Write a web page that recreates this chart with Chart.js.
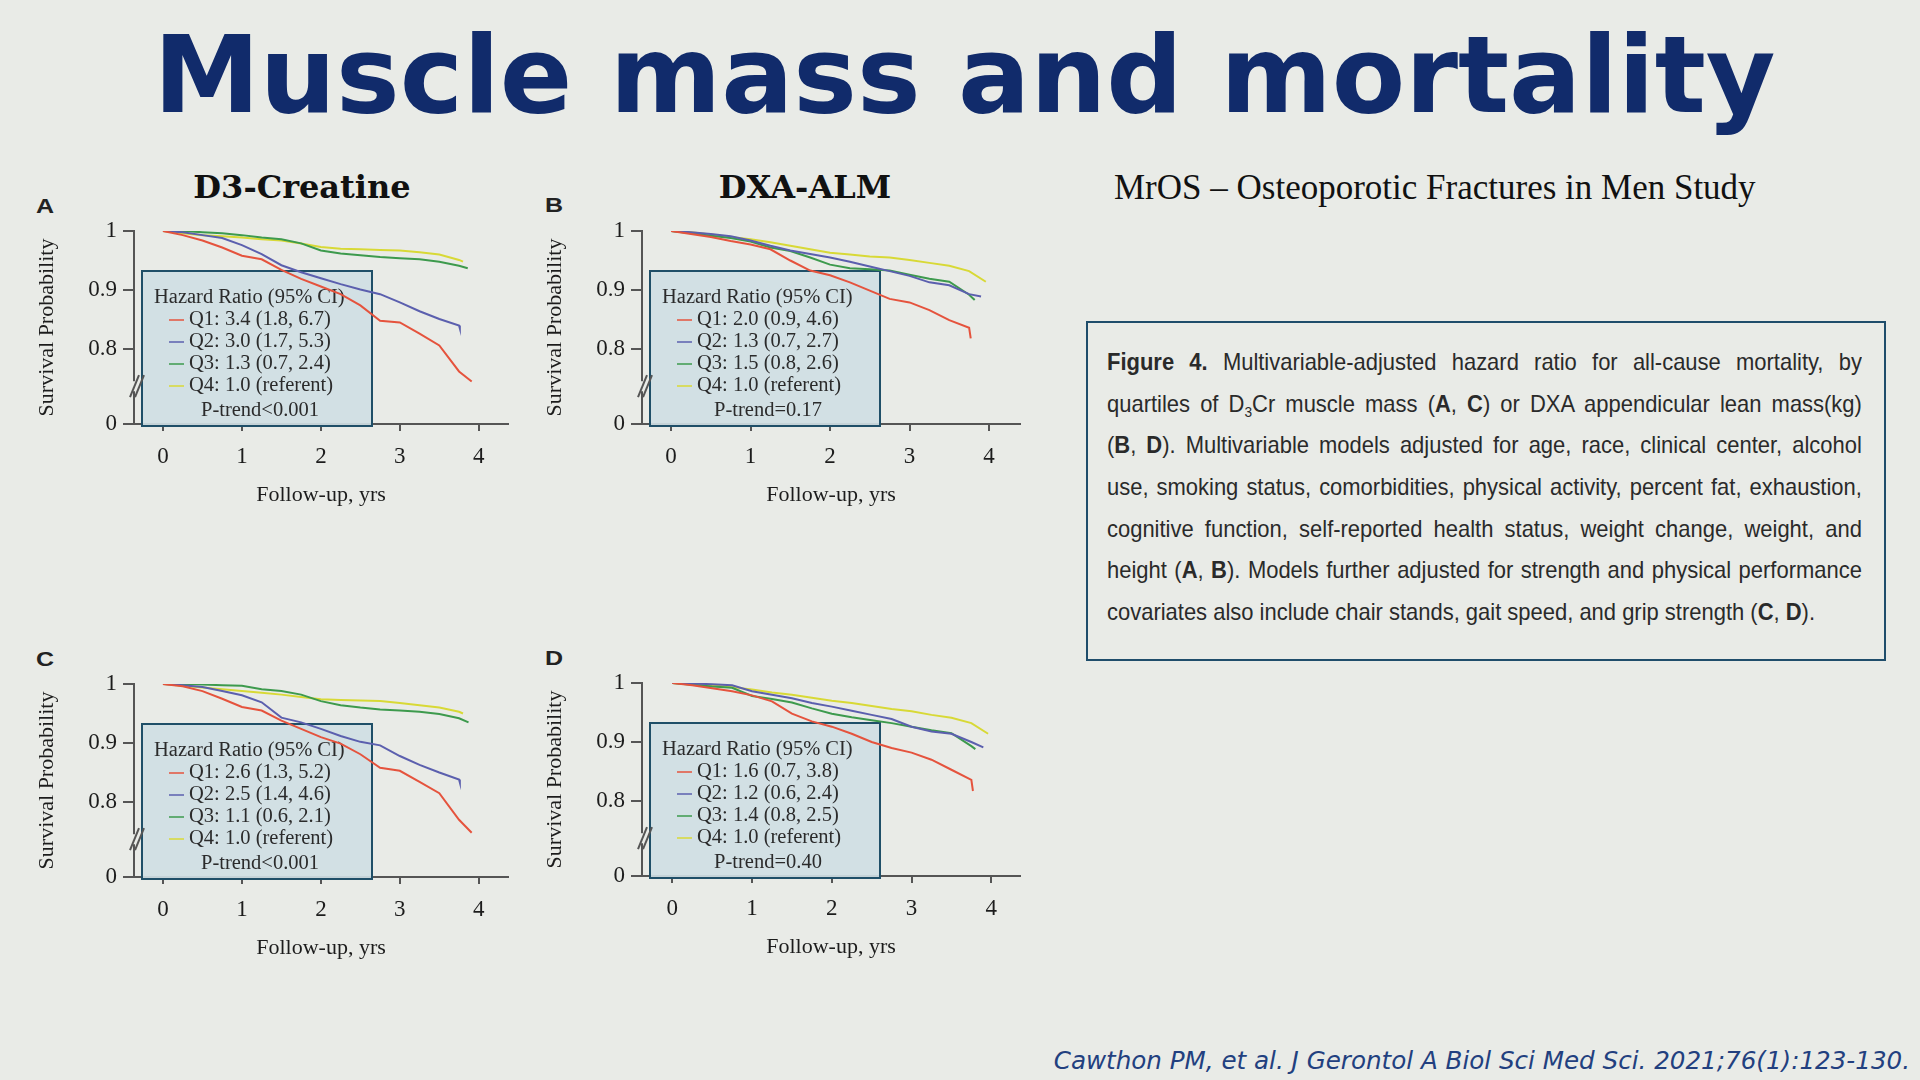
<!DOCTYPE html>
<html>
<head>
<meta charset="utf-8">
<title>Muscle mass and mortality</title>
<script src="https://cdn.jsdelivr.net/npm/chart.js@4.4.1/dist/chart.umd.min.js"></script>
<style>
  html, body { margin: 0; padding: 0; }
  body {
    width: 1920px; height: 1080px; position: relative; overflow: hidden;
    background: #e9ebe7;
  }
  .title {
    position: absolute; left: 0; top: 13px; width: 1929px; margin: 0;
    text-align: center; line-height: 1;
    font: bold 107px "DejaVu Sans", Verdana, sans-serif; color: #112b6b;
  }
  .panel { position: absolute; width: 540px; height: 320px; }
  .letter {
    position: absolute; line-height: 1;
    font: bold 20px "Liberation Sans", Arial, sans-serif; color: #222;
    transform: scaleX(1.25); transform-origin: 0 0;
  }
  .ptitle {
    position: absolute; width: 400px; text-align: center; line-height: 1;
    font: bold 32px "DejaVu Serif", Georgia, serif; color: #111;
  }
  .study {
    position: absolute; left: 1114px; top: 168px; line-height: 1;
    font: 35px "Liberation Serif", "Times New Roman", serif; color: #111;
  }
  .figbox {
    position: absolute; left: 1086px; top: 321px; width: 796px; height: 336px;
    border: 2px solid #1f4d6b;
  }
  .figtext {
    position: absolute; left: 19px; top: 18px; width: 825px;
    transform: scaleX(0.915); transform-origin: 0 0;
    font: 24px "Liberation Sans", Arial, sans-serif; color: #2a2a2a;
  }
  .figtext div {
    height: 41.7px; line-height: 41.7px; white-space: nowrap;
    text-align: justify; text-align-last: justify;
  }
  .figtext div.last { text-align: left; text-align-last: left; }
  .figtext sub { font-size: 15px; vertical-align: -5px; line-height: 0; }
  .cite {
    position: absolute; right: 10px; top: 1046px; line-height: 1;
    font: italic 24.6px "DejaVu Sans", Verdana, sans-serif; color: #22407f;
  }
</style>
</head>
<body>
<h1 class="title">Muscle mass and mortality</h1>

<div class="ptitle" style="left:102px; top:168px;">D3-Creatine</div>
<div class="ptitle" style="left:605px; top:168px;">DXA-ALM</div>
<div class="study">MrOS – Osteoporotic Fractures in Men Study</div>

<div class="letter" style="left:36px; top:195px;">A</div>
<div class="letter" style="left:545px; top:194px;">B</div>
<div class="letter" style="left:36px; top:648px;">C</div>
<div class="letter" style="left:545px; top:647px;">D</div>

<div class="panel" style="left:0px; top:200px;"><canvas id="chartA"></canvas></div>
<div class="panel" style="left:508px; top:200px;"><canvas id="chartB"></canvas></div>
<div class="panel" style="left:0px; top:653px;"><canvas id="chartC"></canvas></div>
<div class="panel" style="left:508px; top:652px;"><canvas id="chartD"></canvas></div>

<div class="figbox">
  <div class="figtext">
    <div><b>Figure 4.</b> Multivariable-adjusted hazard ratio for all-cause mortality, by</div>
    <div>quartiles of D<sub>3</sub>Cr muscle mass (<b>A</b>, <b>C</b>) or DXA appendicular lean mass(kg)</div>
    <div>(<b>B</b>, <b>D</b>). Multivariable models adjusted for age, race, clinical center, alcohol</div>
    <div>use, smoking status, comorbidities, physical activity, percent fat, exhaustion,</div>
    <div>cognitive function, self-reported health status, weight change, weight, and</div>
    <div>height (<b>A</b>, <b>B</b>). Models further adjusted for strength and physical performance</div>
    <div class="last">covariates also include chair stands, gait speed, and grip strength (<b>C</b>, <b>D</b>).</div>
  </div>
</div>

<div class="cite">Cawthon PM, et al. J Gerontol A Biol Sci Med Sci. 2021;76(1):123-130.</div>

<script>
// follow-up grid (years); each series has one more value, taken at its own end time
const followUp = [0, 0.25, 0.5, 0.75, 1, 1.25, 1.5, 1.75, 2, 2.25, 2.5, 2.75, 3, 3.25, 3.5, 3.75];
const quartiles = ['Q1', 'Q2', 'Q3', 'Q4'];
const xTicks = [0, 1, 2, 3, 4];
const yTicks = [0.8, 0.9, 1];
const yBottom = 0.673;   // shown as "0" below the axis break
const breakAt = 0.737;

// A: D3-Creatine, base model
const aQ1 = [1.0, 0.993, 0.984, 0.972, 0.958, 0.952, 0.934, 0.919, 0.906, 0.893, 0.874, 0.848, 0.845, 0.826, 0.806, 0.762, 0.745];
const aQ2 = [1.0, 0.998, 0.993, 0.988, 0.976, 0.961, 0.942, 0.930, 0.920, 0.910, 0.901, 0.893, 0.879, 0.864, 0.851, 0.840, 0.835];
const aQ3 = [1.0, 1.0, 0.998, 0.996, 0.993, 0.989, 0.986, 0.979, 0.967, 0.962, 0.959, 0.956, 0.954, 0.952, 0.948, 0.941, 0.937];
const aQ4 = [1.0, 0.996, 0.993, 0.991, 0.989, 0.986, 0.984, 0.979, 0.973, 0.970, 0.969, 0.968, 0.967, 0.964, 0.960, 0.951, 0.948];
const aEnd = [3.91, 3.76, 3.86, 3.80];
const aHazard = ['Q1: 3.4 (1.8, 6.7)', 'Q2: 3.0 (1.7, 5.3)', 'Q3: 1.3 (0.7, 2.4)', 'Q4: 1.0 (referent)'];
const aTrend = 'P-trend<0.001';

// B: DXA-ALM, base model
const bQ1 = [1.0, 0.995, 0.990, 0.983, 0.977, 0.969, 0.950, 0.933, 0.925, 0.913, 0.899, 0.885, 0.879, 0.866, 0.849, 0.836, 0.818];
const bQ2 = [1.0, 0.998, 0.995, 0.991, 0.984, 0.975, 0.967, 0.961, 0.955, 0.948, 0.940, 0.932, 0.924, 0.913, 0.908, 0.893, 0.889];
const bQ3 = [1.0, 0.996, 0.992, 0.988, 0.982, 0.972, 0.966, 0.955, 0.943, 0.937, 0.935, 0.933, 0.926, 0.919, 0.914, 0.892, 0.883];
const bQ4 = [1.0, 0.998, 0.994, 0.990, 0.986, 0.981, 0.975, 0.969, 0.963, 0.960, 0.957, 0.955, 0.951, 0.946, 0.941, 0.932, 0.914];
const bEnd = [3.77, 3.90, 3.82, 3.96];
const bHazard = ['Q1: 2.0 (0.9, 4.6)', 'Q2: 1.3 (0.7, 2.7)', 'Q3: 1.5 (0.8, 2.6)', 'Q4: 1.0 (referent)'];
const bTrend = 'P-trend=0.17';

// C: D3-Creatine, further adjusted
const cQ1 = [1.0, 0.996, 0.988, 0.975, 0.961, 0.955, 0.938, 0.924, 0.910, 0.899, 0.881, 0.858, 0.853, 0.834, 0.815, 0.770, 0.748];
const cQ2 = [1.0, 0.998, 0.995, 0.988, 0.981, 0.969, 0.943, 0.935, 0.924, 0.912, 0.902, 0.896, 0.878, 0.863, 0.850, 0.838, 0.833];
const cQ3 = [1.0, 1.0, 0.999, 0.998, 0.997, 0.991, 0.988, 0.982, 0.971, 0.964, 0.960, 0.957, 0.955, 0.953, 0.949, 0.942, 0.935];
const cQ4 = [1.0, 0.997, 0.994, 0.991, 0.988, 0.985, 0.982, 0.978, 0.974, 0.973, 0.972, 0.971, 0.968, 0.964, 0.960, 0.953, 0.950];
const cEnd = [3.91, 3.76, 3.87, 3.80];
const cHazard = ['Q1: 2.6 (1.3, 5.2)', 'Q2: 2.5 (1.4, 4.6)', 'Q3: 1.1 (0.6, 2.1)', 'Q4: 1.0 (referent)'];
const cTrend = 'P-trend<0.001';

// D: DXA-ALM, further adjusted
const dQ1 = [1.0, 0.996, 0.991, 0.986, 0.979, 0.969, 0.948, 0.935, 0.926, 0.914, 0.900, 0.890, 0.882, 0.870, 0.853, 0.836, 0.817];
const dQ2 = [1.0, 0.999, 0.998, 0.996, 0.986, 0.980, 0.974, 0.966, 0.960, 0.953, 0.946, 0.939, 0.926, 0.918, 0.914, 0.900, 0.891];
const dQ3 = [1.0, 0.997, 0.994, 0.992, 0.978, 0.973, 0.967, 0.957, 0.948, 0.942, 0.937, 0.932, 0.926, 0.920, 0.915, 0.893, 0.888];
const dQ4 = [1.0, 0.998, 0.996, 0.993, 0.989, 0.984, 0.980, 0.975, 0.970, 0.966, 0.961, 0.956, 0.952, 0.946, 0.941, 0.932, 0.914];
const dEnd = [3.77, 3.90, 3.80, 3.96];
const dHazard = ['Q1: 1.6 (0.7, 3.8)', 'Q2: 1.2 (0.6, 2.4)', 'Q3: 1.4 (0.8, 2.5)', 'Q4: 1.0 (referent)'];
const dTrend = 'P-trend=0.40';

const colors = ['#e5533d', '#5b5fae', '#3d9a4d', '#d8d936'];
const axisColor = '#555';
const bgColor = '#e9ebe7';
const serif = '"Liberation Serif", "Times New Roman", serif';

Chart.defaults.font.family = serif;
Chart.defaults.color = '#1c1c1c';

function hazardBox(labels, trend) {
  return {
    id: 'hazardBox',
    beforeDatasetsDraw(chart) {
      const { ctx, chartArea } = chart;
      const x = chartArea.left + 8, y = chartArea.top + 40;
      const w = 230, h = chartArea.bottom + 2 - y;
      ctx.save();
      ctx.fillStyle = 'rgba(207,222,228,0.92)';
      ctx.fillRect(x, y, w, h);
      ctx.strokeStyle = '#1f4f68';
      ctx.lineWidth = 2;
      ctx.strokeRect(x, y, w, h);
      ctx.font = '20.5px ' + serif;
      ctx.fillStyle = '#2b2b2b';
      ctx.textBaseline = 'middle';
      ctx.fillText('Hazard Ratio (95% CI)', x + 12, y + 27);
      labels.forEach((t, i) => {
        const ly = y + 49 + 22 * i;
        ctx.strokeStyle = colors[i];
        ctx.lineWidth = 1.5;
        ctx.beginPath();
        ctx.moveTo(x + 27, ly);
        ctx.lineTo(x + 42, ly);
        ctx.stroke();
        ctx.fillText(t, x + 47, ly);
      });
      ctx.textAlign = 'center';
      ctx.fillText(trend, x + w / 2 + 3, y + 140);
      ctx.restore();
    }
  };
}

const axisBreak = {
  id: 'axisBreak',
  afterDraw(chart) {
    const { ctx, chartArea, scales } = chart;
    const by = scales.y.getPixelForValue(breakAt);
    const x = chartArea.left;
    ctx.save();
    ctx.fillStyle = bgColor;
    ctx.fillRect(x - 2, by - 5, 4, 10);
    ctx.strokeStyle = axisColor;
    ctx.lineWidth = 2;
    [0, 5].forEach(d => {
      ctx.beginPath();
      ctx.moveTo(x - 4 + d, by + 11);
      ctx.lineTo(x + 5 + d, by - 11);
      ctx.stroke();
    });
    ctx.restore();
  }
};

function makePanel(id, series, ends, hazards, trend, xMin, xMax, padRight) {
  const n = followUp.length;
  const datasets = series.map((vals, i) => ({
    label: quartiles[i],
    data: followUp.map((t, k) => ({ x: t, y: vals[k] })).concat([{ x: ends[i], y: vals[n] }]),
    borderColor: colors[i],
    borderWidth: 2,
    pointRadius: 0,
    tension: 0,
    fill: false
  }));

  return new Chart(document.getElementById(id), {
    type: 'line',
    data: { datasets },
    options: {
      responsive: true,
      maintainAspectRatio: false,
      animation: false,
      layout: { padding: { top: 31, right: padRight, left: 0, bottom: 0 } },
      plugins: { legend: { display: false }, tooltip: { enabled: false } },
      scales: {
        x: {
          type: 'linear',
          min: xMin,
          max: xMax,
          afterBuildTicks: axis => { axis.ticks = xTicks.map(v => ({ value: v })); },
          afterFit: axis => { axis.height = 96; },
          ticks: { font: { size: 23 }, padding: 12, maxRotation: 0 },
          grid: { drawOnChartArea: false, drawTicks: true, tickLength: 7, color: axisColor, lineWidth: 2 },
          border: { display: true, color: axisColor, width: 2 },
          title: { display: true, text: 'Follow-up, yrs', font: { size: 22 }, padding: { top: 0, bottom: 12 } }
        },
        y: {
          type: 'linear',
          min: yBottom,
          max: 1,
          afterBuildTicks: axis => { axis.ticks = [yBottom].concat(yTicks).map(v => ({ value: v })); },
          afterFit: axis => { axis.width = 134; },
          ticks: {
            font: { size: 23 },
            padding: 6,
            callback: v => (v === yBottom ? '0' : (v === 1 ? '1' : v.toFixed(1)))
          },
          grid: { drawOnChartArea: false, drawTicks: true, tickLength: 11, color: axisColor, lineWidth: 2 },
          border: { display: true, color: axisColor, width: 2 },
          title: { display: true, text: 'Survival Probability', font: { size: 22 }, padding: { top: 34, bottom: 0 } }
        }
      }
    },
    plugins: [hazardBox(hazards, trend), axisBreak]
  });
}

makePanel('chartA', [aQ1, aQ2, aQ3, aQ4], aEnd, aHazard, aTrend, -0.367, 4.37, 32);
makePanel('chartB', [bQ1, bQ2, bQ3, bQ4], bEnd, bHazard, bTrend, -0.366, 4.39, 28);
makePanel('chartC', [cQ1, cQ2, cQ3, cQ4], cEnd, cHazard, cTrend, -0.367, 4.37, 32);
makePanel('chartD', [dQ1, dQ2, dQ3, dQ4], dEnd, dHazard, dTrend, -0.38, 4.36, 28);
</script>
</body>
</html>
